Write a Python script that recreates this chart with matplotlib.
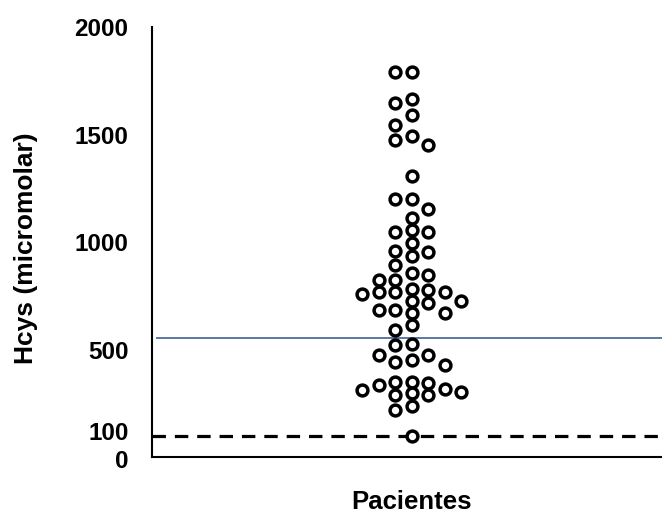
import numpy as np
import matplotlib.pyplot as plt
from matplotlib.transforms import ScaledTranslation

plt.rcParams['font.family'] = ['Liberation Sans', 'DejaVu Sans']

# Hcys values (micromolar)
hcys = [1792, 1792, 1664, 1645, 1591, 1544, 1493, 1474, 1454, 1308,
        1203, 1203, 1153, 1110, 1056, 1048, 1045, 994, 958, 952, 937,
        893, 857, 845, 823, 823, 780, 775, 766, 766, 766, 761,
        728, 726, 715, 684, 684, 668, 668, 614, 589,
        524, 521, 477, 474, 451, 443, 428,
        350, 350, 346, 335, 319, 312, 304, 296, 288, 288,
        237, 217, 98]
ref_line = 555
cutoff = 100
yticks = [0, 100, 500, 1000, 1500, 2000]

fig = plt.figure(figsize=(6.62, 5.13), dpi=100)
ax = fig.add_axes([0.2296, 0.109, 0.7704, 0.838])

# axes geometry in pixels, used for the swarm layout
ax_w_px = 0.7704 * 662
ax_h_px = 0.838 * 513
col_px = 16.5
px_per_y = ax_h_px / 2000.0
left_cols = 260 / col_px
ax.set_xlim(-left_cols, ax_w_px / col_px - left_cols)
ax.set_ylim(0, 2000)


def swarm(vals, min_d=11.0):
    # greedy placement into columns: each point goes to the column nearest
    # the centre where it does not sit on top of a point already placed
    order = np.argsort(vals)[::-1]
    placed = []
    xs = np.zeros(len(vals))
    slots = [0]
    for k in range(1, 8):
        slots += [-k, k]
    for i in order:
        y = vals[i] * px_per_y
        for s in slots:
            ok = True
            for (px, py) in placed:
                if np.hypot((s - px) * col_px, y - py) < min_d:
                    ok = False
                    break
            if ok:
                xs[i] = s
                placed.append((s, y))
                break
    return xs


vals = np.array(hcys, dtype=float)
xs = swarm(vals)

ax.axhline(ref_line, xmin=0.01, xmax=1, color='#4f6d9a', lw=1.3, zorder=1)
ax.axhline(cutoff, color='black', lw=2.3, ls=(0, (4.2, 2.8)), zorder=1)
ax.plot(xs, vals, 'o', ms=7.8, mfc='white', mec='black', mew=2.5,
        ls='none', zorder=3)

for s in ['top', 'right']:
    ax.spines[s].set_visible(False)
for s in ['left', 'bottom']:
    ax.spines[s].set_linewidth(1.5)

ax.set_xticks([])
ax.set_yticks(yticks)
ax.set_yticklabels([str(t) for t in yticks], fontsize=17.5, fontweight='bold')
ax.tick_params(axis='y', length=0, pad=17)

# "100" and "0" sit very close; nudge them apart a little
tl = ax.get_yticklabels()
tl[1].set_transform(tl[1].get_transform() + ScaledTranslation(0, 3 / 72, fig.dpi_scale_trans))
tl[0].set_transform(tl[0].get_transform() + ScaledTranslation(0, -1.5 / 72, fig.dpi_scale_trans))

ax.set_ylabel('Hcys (micromolar)', fontsize=19, fontweight='bold')
ax.yaxis.set_label_coords(-0.224, 0.485)
ax.text(0.508, -0.105, 'Pacientes', transform=ax.transAxes, ha='center',
        va='center', fontsize=18.5, fontweight='bold')

fig.savefig('out.png', dpi=100)
